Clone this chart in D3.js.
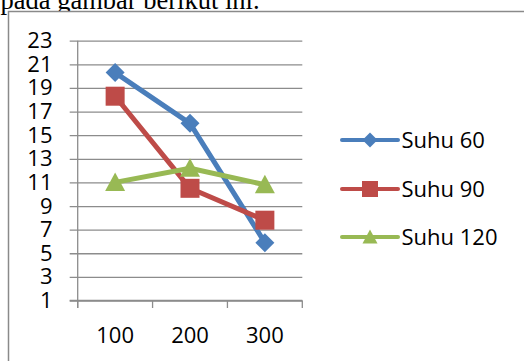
<!DOCTYPE html>
<html lang="id">
<head>
<meta charset="utf-8">
<title>Suhu</title>
<script src="https://d3js.org/d3.v7.min.js"></script>
<style>
  body { margin: 0; background: #fff; }
  svg { display: block; }
  .lbl { font-family: "Open Sans", sans-serif; font-size: 22px; fill: #000; }
</style>
</head>
<body>
<script>
// data
var categories = ["100", "200", "300"];
var seriesNames = ["Suhu 60", "Suhu 90", "Suhu 120"];
var suhu60 = [20.3, 16.0, 5.9];
var suhu90 = [18.3, 10.5, 7.8];
var suhu120 = [11.0, 12.2, 10.8];
var yTicks = [1, 3, 5, 7, 9, 11, 13, 15, 17, 19, 21, 23];

var colors = ["#4a7ebb", "#be4b48", "#98b954"];
var shapes = ["diamond", "square", "triangle"];
var values = [suhu60, suhu90, suhu120];

var W = 524, H = 361;
var x0 = 77.7, x1 = 302.3, yTop = 40.7, yBot = 300.5;

var svg = d3.select("body").append("svg")
    .attr("width", W)
    .attr("height", H);

// caption text cut off at top, chart picture lies over it
svg.append("text")
    .attr("x", 0.5)
    .attr("y", 8.5)
    .attr("font-family", "Liberation Serif, serif")
    .attr("font-size", 26.5)
    .attr("fill", "#000")
    .text("pada gambar berikut ini.");

svg.append("rect")
    .attr("x", 8).attr("y", 11)
    .attr("width", W).attr("height", H)
    .attr("fill", "#fff");

// frame
svg.append("path")
    .attr("d", "M8.5," + H + "V11.5H" + W)
    .attr("fill", "none")
    .attr("stroke", "#8a8a8a")
    .attr("stroke-width", 1.5);

var x = d3.scaleBand().domain(categories).range([x0, x1]);
var y = d3.scaleLinear().domain([1, 23]).range([yBot, yTop]);

// grid + y labels
var yAxis = svg.append("g")
    .attr("transform", "translate(" + (x0 - 8) + ",0)")
    .call(d3.axisLeft(y).tickValues(yTicks).tickSize(-(x1 - x0 + 8)).tickPadding(17.2));
yAxis.select(".domain").remove();
yAxis.selectAll(".tick line").attr("stroke", "#8c8c8c").attr("stroke-width", 1.3);
yAxis.selectAll(".tick text").attr("class", "lbl").attr("font-size", null).attr("font-family", null);

// y axis line
svg.append("line")
    .attr("x1", x0).attr("x2", x0).attr("y1", yTop).attr("y2", yBot + 7.5)
    .attr("stroke", "#8c8c8c").attr("stroke-width", 1.3);

// x axis ticks at band edges
var edges = categories.map(function(c) { return x(c); }).concat([x1]);
svg.selectAll(".xtick").data(edges).enter().append("line")
    .attr("class", "xtick")
    .attr("x1", function(d) { return d; }).attr("x2", function(d) { return d; })
    .attr("y1", yBot).attr("y2", yBot + 7.5)
    .attr("stroke", "#8c8c8c").attr("stroke-width", 1.3);
svg.append("line")
    .attr("x1", x0 - 8).attr("x2", x1).attr("y1", yBot).attr("y2", yBot)
    .attr("stroke", "#8c8c8c").attr("stroke-width", 1.3);

svg.selectAll(".xlbl").data(categories).enter().append("text")
    .attr("class", "lbl")
    .attr("x", function(d) { return x(d) + x.bandwidth() / 2; })
    .attr("y", 343)
    .attr("text-anchor", "middle")
    .text(function(d) { return d; });

function marker(sel, shape, s, color) {
  if (shape === "diamond") {
    sel.append("path").attr("d", "M0," + (-s) + "L" + s + ",0L0," + s + "L" + (-s) + ",0Z");
  } else if (shape === "square") {
    sel.append("rect").attr("x", -s).attr("y", -s).attr("width", 2 * s).attr("height", 2 * s);
  } else {
    sel.append("path").attr("d", "M0," + (-s) + "L" + s + "," + (s * 0.85) + "L" + (-s) + "," + (s * 0.85) + "Z");
  }
  sel.attr("fill", color);
}

var line = d3.line()
    .x(function(d, i) { return x(categories[i]) + x.bandwidth() / 2; })
    .y(function(d) { return y(d); });

values.forEach(function(vals, k) {
  svg.append("path")
      .attr("d", line(vals))
      .attr("fill", "none")
      .attr("stroke", colors[k])
      .attr("stroke-width", 5)
      .attr("stroke-linejoin", "round");
  vals.forEach(function(v, i) {
    var g = svg.append("g")
        .attr("transform", "translate(" + (x(categories[i]) + x.bandwidth() / 2) + "," + y(v) + ")");
    marker(g, shapes[k], shapes[k] === "triangle" ? 10 : 9.5, colors[k]);
  });
});

// legend
var legY = [140, 189, 237];
seriesNames.forEach(function(name, k) {
  svg.append("line")
      .attr("x1", 342).attr("x2", 398).attr("y1", legY[k]).attr("y2", legY[k])
      .attr("stroke", colors[k]).attr("stroke-width", 4)
      .attr("stroke-linecap", "round");
  var g = svg.append("g").attr("transform", "translate(370," + legY[k] + ")");
  marker(g, shapes[k], shapes[k] === "square" ? 8 : 7.5, colors[k]);
  svg.append("text")
      .attr("class", "lbl")
      .attr("x", 401.5)
      .attr("y", legY[k])
      .attr("dy", "0.36em")
      .text(name);
});
</script>
</body>
</html>
